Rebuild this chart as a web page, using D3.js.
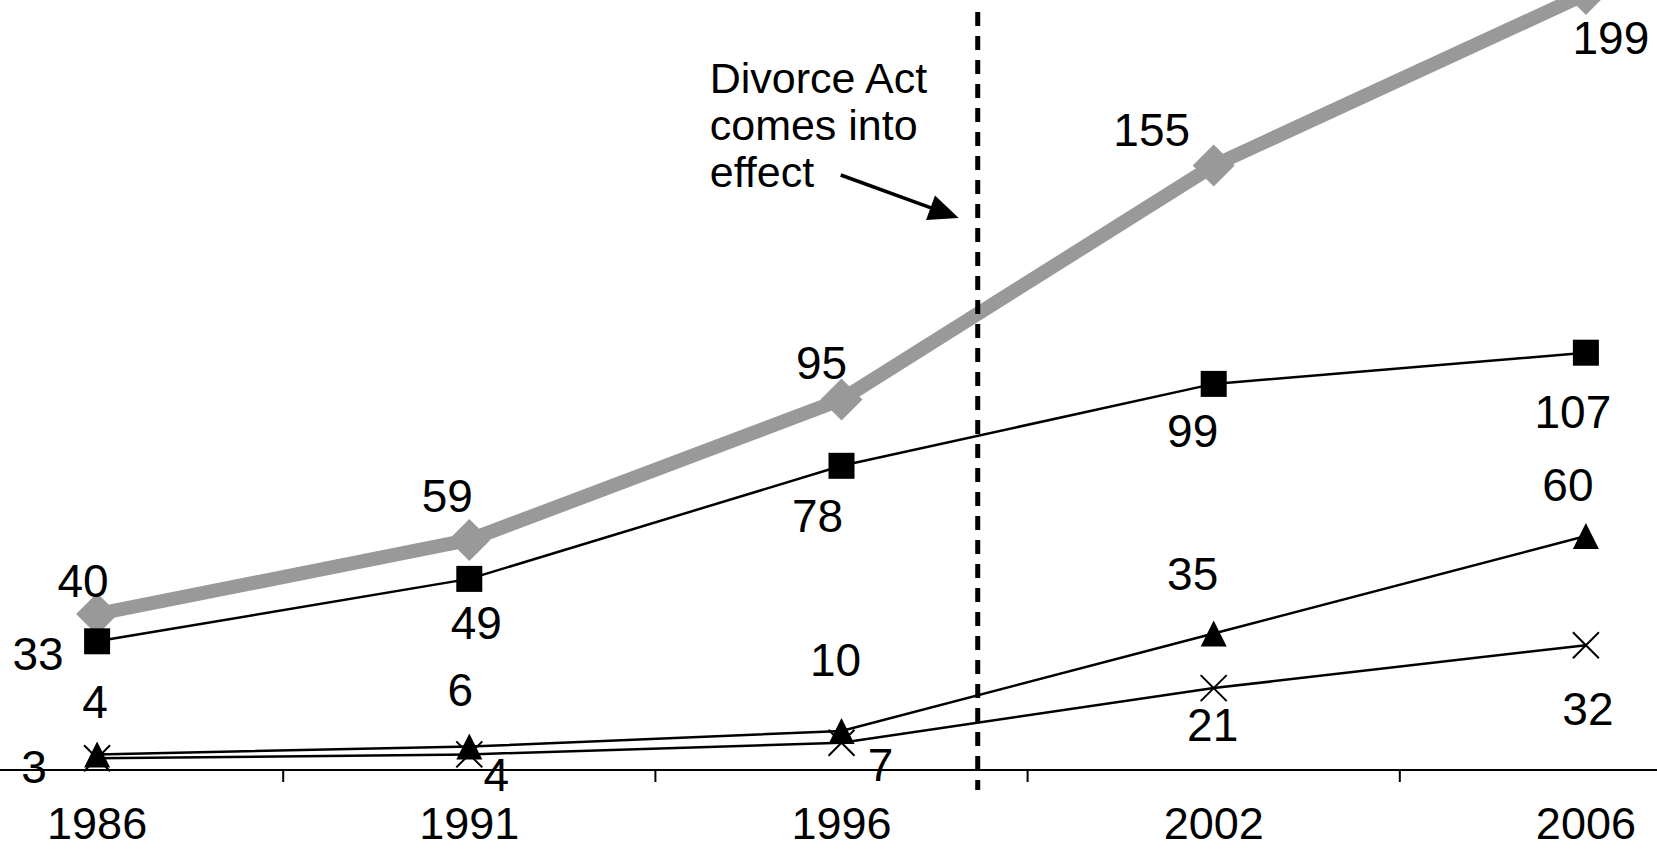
<!DOCTYPE html>
<html>
<head>
<meta charset="utf-8">
<script src="https://cdn.jsdelivr.net/npm/d3@7"></script>
<style>
  html, body { margin: 0; padding: 0; background: #fff; }
  svg { display: block; }
  text { font-family: "Liberation Sans", Arial, sans-serif; fill: #000; }
</style>
</head>
<body>
<svg id="chart" width="1657" height="849"></svg>
<script>
// ---- data ----
const years = ["1986", "1991", "1996", "2002", "2006"];
const diamondValues = [40, 59, 95, 155, 199];   // thick grey line
const squareValues = [33, 49, 78, 99, 107];
const triangleValues = [4, 6, 10, 35, 60];
const crossValues = [3, 4, 7, 21, 32];
const annotationLines = ["Divorce Act", "comes into", "effect"];
const eventIndex = 2.366; // Divorce Act, between 1996 and 2002 on the category axis

// ---- label placement (pixel offsets from the point) ----
const diamondLabelOffsets = [[-14, -34], [-22, -44], [-20, -37], [-62, -36], [25, 44]];
const squareLabelOffsets = [[-59, 12], [7, 44], [-24, 50], [-21, 47], [-13, 59]];
const triangleLabelOffsets = [[-2, -53], [-9, -57], [-6, -72], [-21, -60], [-18, -52]];
const crossLabelOffsets = [[-63, 8], [27, 20], [39, 22], [-1, 36], [2, 63]];

const W = 1657, H = 849;
const svg = d3.select("#chart");

const x = d3.scaleBand().domain(years).range([-89, 1772]).padding(0);
const cx = d => x(d) + x.bandwidth() / 2;
const xIdx = d3.scaleLinear().domain([0, years.length - 1]).range([cx(years[0]), cx(years[years.length - 1])]);
const y = d3.scaleLinear().domain([0, 200]).range([770, -10]);

// ---- x axis ----
const axisG = svg.append("g").attr("transform", `translate(0,${y(0)})`);
axisG.append("line").attr("x1", 0).attr("x2", W).attr("y1", 0).attr("y2", 0)
  .attr("stroke", "#000").attr("stroke-width", 2);
const axis = d3.axisBottom(x).tickSize(0).tickPadding(0);
const ag = axisG.append("g").call(axis);
ag.select(".domain").remove();
ag.selectAll("text")
  .attr("y", 69).attr("dy", 0)
  .style("font-size", "45px")
  .style("font-family", '"Liberation Sans", Arial, sans-serif')
  .attr("fill", "#000");
// tick marks at band boundaries
axisG.selectAll("line.tick-mark").data(years).enter().append("line")
  .attr("class", "tick-mark")
  .attr("x1", d => x(d)).attr("x2", d => x(d))
  .attr("y1", 0).attr("y2", 12)
  .attr("stroke", "#000").attr("stroke-width", 2);

// ---- series ----
const line = d3.line().x((v, i) => cx(years[i])).y(v => y(v));

svg.append("path").datum(diamondValues).attr("d", line)
  .attr("fill", "none").attr("stroke", "#999").attr("stroke-width", 14)
  .attr("stroke-linejoin", "round");
svg.selectAll("path.diamond").data(diamondValues).enter().append("path")
  .attr("class", "diamond")
  .attr("d", (v, i) => {
    const px = cx(years[i]), py = y(v), r = 21;
    return `M${px},${py - r}L${px + r},${py}L${px},${py + r}L${px - r},${py}Z`;
  })
  .attr("fill", "#999");

[crossValues, triangleValues, squareValues].forEach(vals => {
  svg.append("path").datum(vals).attr("d", line)
    .attr("fill", "none").attr("stroke", "#000").attr("stroke-width", 2.5);
});

// cross markers
svg.selectAll("path.cross").data(crossValues).enter().append("path")
  .attr("class", "cross")
  .attr("d", (v, i) => {
    const px = cx(years[i]), py = y(v), r = 13;
    return `M${px - r},${py - r}L${px + r},${py + r}M${px - r},${py + r}L${px + r},${py - r}`;
  })
  .attr("stroke", "#000").attr("stroke-width", 2).attr("fill", "none");

// triangle markers
svg.selectAll("path.tri").data(triangleValues).enter().append("path")
  .attr("class", "tri")
  .attr("d", (v, i) => {
    const px = cx(years[i]), py = y(v), h = 13;
    return `M${px},${py - h}L${px + 13},${py + h}L${px - 13},${py + h}Z`;
  })
  .attr("fill", "#000");

// square markers
svg.selectAll("rect.sq").data(squareValues).enter().append("rect")
  .attr("class", "sq")
  .attr("x", (v, i) => cx(years[i]) - 13)
  .attr("y", v => y(v) - 13)
  .attr("width", 26).attr("height", 26)
  .attr("fill", "#000");

// ---- event line ----
const ex = xIdx(eventIndex);
svg.append("line")
  .attr("x1", ex).attr("x2", ex).attr("y1", 12).attr("y2", 790)
  .attr("stroke", "#000").attr("stroke-width", 5)
  .attr("stroke-dasharray", "14,10");

// annotation text
svg.selectAll("text.anno").data(annotationLines).enter().append("text")
  .attr("class", "anno")
  .attr("x", ex - 268)
  .attr("y", (d, i) => 93 + i * 47)
  .style("font-size", "43px")
  .text(d => d);

// arrow
const tail = [ex - 137, 175], tip = [ex - 19, 218];
const dx = tip[0] - tail[0], dy = tip[1] - tail[1];
const len = Math.hypot(dx, dy), ux = dx / len, uy = dy / len;
const bx = tip[0] - 30 * ux, by = tip[1] - 30 * uy;
svg.append("line")
  .attr("x1", tail[0]).attr("y1", tail[1]).attr("x2", bx + 2 * ux).attr("y2", by + 2 * uy)
  .attr("stroke", "#000").attr("stroke-width", 3.5);
svg.append("path")
  .attr("d", `M${tip[0]},${tip[1]}L${bx - 13 * uy},${by + 13 * ux}L${bx + 13 * uy},${by - 13 * ux}Z`)
  .attr("fill", "#000");

// ---- value labels ----
function labels(vals, offs, cls) {
  svg.selectAll("text." + cls).data(vals).enter().append("text")
    .attr("class", cls)
    .attr("x", (v, i) => cx(years[i]) + offs[i][0])
    .attr("y", (v, i) => y(v) + offs[i][1])
    .attr("dy", "0.36em")
    .attr("text-anchor", "middle")
    .style("font-size", "46px")
    .text(v => v);
}
labels(diamondValues, diamondLabelOffsets, "lbl-d");
labels(squareValues, squareLabelOffsets, "lbl-s");
labels(triangleValues, triangleLabelOffsets, "lbl-t");
labels(crossValues, crossLabelOffsets, "lbl-x");
</script>
</body>
</html>
